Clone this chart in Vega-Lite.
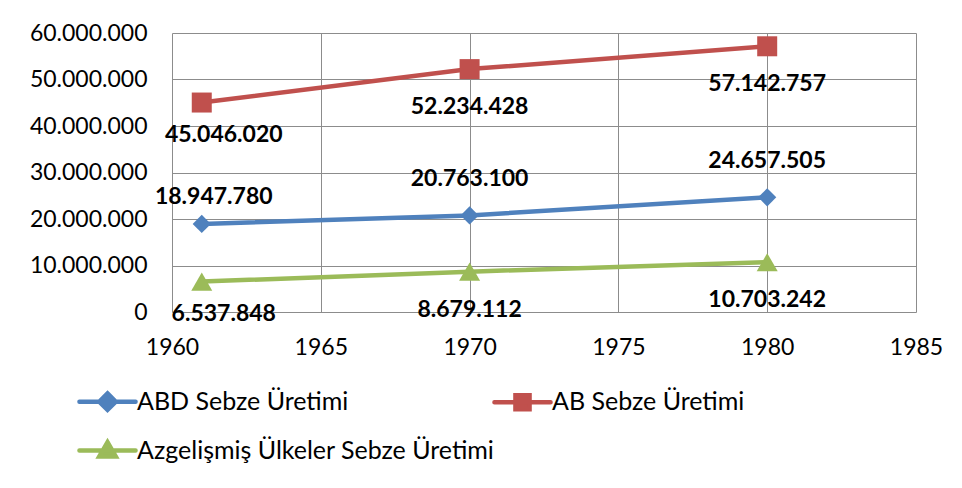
{
  "$schema": "https://vega.github.io/schema/vega-lite/v6.json",
  "width": 744,
  "height": 279,
  "autosize": {"type": "none"},
  "padding": {"left": 172, "top": 33, "right": 46, "bottom": 176},
  "background": "white",
  "config": {
    "locale": {"number": {"decimal": ",", "thousands": ".", "grouping": [3], "currency": ["", ""]}},
    "view": {"stroke": null},
    "font": "Lato",
    "axis": {
      "domain": false,
      "ticks": false,
      "gridColor": "#8c8c8c",
      "gridWidth": 1,
      "gridOpacity": 1,
      "labelFont": "Lato",
      "labelFontSize": 23,
      "labelColor": "#000000",
      "labelFlush": false,
      "title": null
    }
  },
  "data": {
    "values": [
      {"series": "ABD Sebze Üretimi", "year": 1961, "value": 18947780},
      {"series": "ABD Sebze Üretimi", "year": 1970, "value": 20763100},
      {"series": "ABD Sebze Üretimi", "year": 1980, "value": 24657505},
      {"series": "AB Sebze Üretimi", "year": 1961, "value": 45046020},
      {"series": "AB Sebze Üretimi", "year": 1970, "value": 52234428},
      {"series": "AB Sebze Üretimi", "year": 1980, "value": 57142757},
      {"series": "Azgelişmiş Ülkeler Sebze Üretimi", "year": 1961, "value": 6537848},
      {"series": "Azgelişmiş Ülkeler Sebze Üretimi", "year": 1970, "value": 8679112},
      {"series": "Azgelişmiş Ülkeler Sebze Üretimi", "year": 1980, "value": 10703242}
    ]
  },
  "encoding": {
    "x": {
      "field": "year", "type": "quantitative",
      "scale": {"domain": [1960, 1985], "nice": false, "zero": false},
      "axis": {"values": [1960, 1965, 1970, 1975, 1980, 1985], "format": "d", "labelPadding": 24, "labelFlush": false, "title": null}
    },
    "y": {
      "field": "value", "type": "quantitative",
      "scale": {"domain": [0, 60000000], "nice": false},
      "axis": {"values": [0, 10000000, 20000000, 30000000, 40000000, 50000000, 60000000], "format": ",d", "labelPadding": 25, "labelFlush": false, "title": null}
    },
    "color": {
      "field": "series", "type": "nominal",
      "scale": {
        "domain": ["ABD Sebze Üretimi", "Azgelişmiş Ülkeler Sebze Üretimi", "AB Sebze Üretimi"],
        "range": ["#4F81BD", "#9BBB59", "#C0504D"]
      },
      "legend": {
        "orient": "none",
        "legendX": -82,
        "legendY": 351,
        "columns": 2,
        "columnPadding": -10,
        "rowPadding": 14,
        "padding": 0,
        "title": null,
        "symbolSize": 900,
        "symbolStrokeWidth": 4.5,
        "symbolOpacity": 1,
        "labelFont": "Lato",
        "labelFontSize": 25,
        "labelColor": "#000000",
        "labelOffset": 12,
        "labelLimit": 500,
        "encode": {
          "symbols": {
            "update": {
              "shape": {"signal": "datum.value === 'ABD Sebze Üretimi' ? 'M-1.87,0L1.87,0M0,-0.55L0.55,0L0,0.55L-0.55,0Z' : (datum.value === 'AB Sebze Üretimi' ? 'M-1.87,0L1.87,0M-0.47,-0.47L0.47,-0.47L0.47,0.47L-0.47,0.47Z' : 'M-1.87,0L1.87,0M0,-0.55L0.55,0.4L-0.55,0.4Z')"},
              "fill": {"signal": "datum.value === 'ABD Sebze Üretimi' ? '#4F81BD' : (datum.value === 'AB Sebze Üretimi' ? '#C0504D' : '#9BBB59')"},
              "stroke": {"signal": "datum.value === 'ABD Sebze Üretimi' ? '#4F81BD' : (datum.value === 'AB Sebze Üretimi' ? '#C0504D' : '#9BBB59')"},
              "strokeCap": {"value": "round"},
              "strokeWidth": {"value": 4.5},
              "opacity": {"value": 1}
            }
          }
        }
      }
    }
  },
  "layer": [
    {
      "mark": {"type": "line", "strokeWidth": 4.5}
    },
    {
      "transform": [{"filter": "datum.series === 'ABD Sebze Üretimi'"}],
      "mark": {"type": "point", "filled": true, "opacity": 1, "shape": "diamond", "size": 330}
    },
    {
      "transform": [{"filter": "datum.series === 'AB Sebze Üretimi'"}],
      "mark": {"type": "point", "filled": true, "opacity": 1, "shape": "square", "size": 400}
    },
    {
      "transform": [{"filter": "datum.series === 'Azgelişmiş Ülkeler Sebze Üretimi'"}],
      "mark": {"type": "point", "filled": true, "opacity": 1, "shape": "triangle-up", "size": 441}
    },
    {
      "transform": [{"filter": "datum.series === 'ABD Sebze Üretimi' && datum.year === 1961"}],
      "mark": {"type": "text", "fontWeight": "bold", "fontSize": 23, "font": "Lato", "baseline": "middle", "align": "center", "dx": 12, "dy": -27},
      "encoding": {"text": {"field": "value", "type": "quantitative", "format": ",d"}, "color": {"value": "#000000"}}
    },
    {
      "transform": [{"filter": "datum.series === 'ABD Sebze Üretimi' && datum.year !== 1961"}],
      "mark": {"type": "text", "fontWeight": "bold", "fontSize": 23, "font": "Lato", "baseline": "middle", "align": "center", "dy": -36},
      "encoding": {"text": {"field": "value", "type": "quantitative", "format": ",d"}, "color": {"value": "#000000"}}
    },
    {
      "transform": [{"filter": "datum.series !== 'ABD Sebze Üretimi' && datum.year === 1961"}],
      "mark": {"type": "text", "fontWeight": "bold", "fontSize": 23, "font": "Lato", "baseline": "middle", "align": "center", "dx": 22, "dy": 32},
      "encoding": {"text": {"field": "value", "type": "quantitative", "format": ",d"}, "color": {"value": "#000000"}}
    },
    {
      "transform": [{"filter": "datum.series !== 'ABD Sebze Üretimi' && datum.year !== 1961"}],
      "mark": {"type": "text", "fontWeight": "bold", "fontSize": 23, "font": "Lato", "baseline": "middle", "align": "center", "dy": 38},
      "encoding": {"text": {"field": "value", "type": "quantitative", "format": ",d"}, "color": {"value": "#000000"}}
    }
  ]
}
